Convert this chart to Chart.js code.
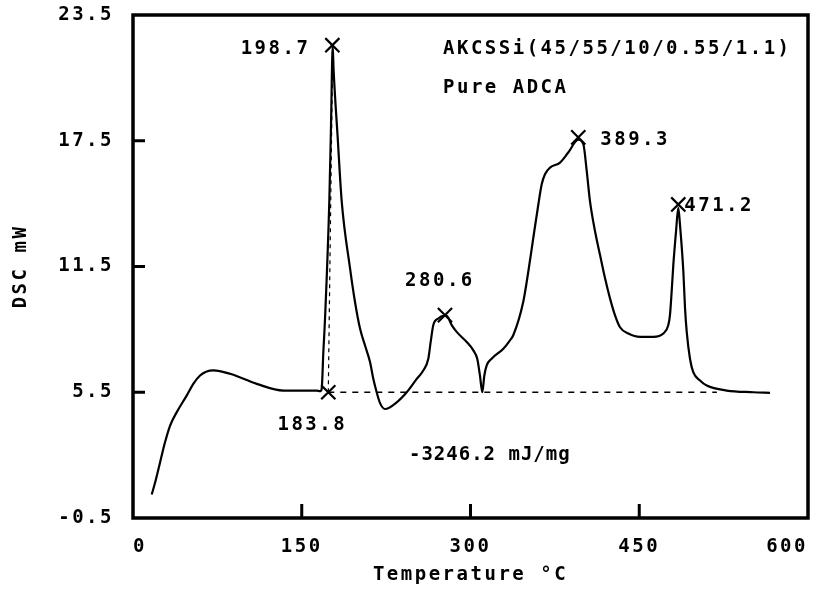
<!DOCTYPE html>
<html>
<head>
<meta charset="utf-8">
<script src="https://cdn.jsdelivr.net/npm/chart.js@4"></script>
<style>
  html, body { margin: 0; padding: 0; background: #fff; }
  #wrap { width: 822px; height: 590px; }
</style>
</head>
<body>
<div id="wrap"><canvas id="dsc"></canvas></div>
<script>
// DSC curve
const temps = [16.6, 19.6, 24.0, 28.4, 32.9, 38.8, 47.7, 53.6, 59.6, 65.5, 71.4, 86.2, 110.0, 133.6, 163.3, 166.2,
  167.7, 169.2, 170.7, 174.5, 176.0, 177.5, 178.3, 182.0, 185.5, 192.9, 197.3, 201.8, 206.2, 210.7, 213.6, 216.6,
  219.6, 224.0, 234.4, 243.3, 252.2, 258.0, 262.5, 264.6, 266.9, 271.4, 275.8, 278.8, 283.3, 287.7, 296.6, 302.5,
  306.0, 308.4, 310.5, 312.3, 314.4, 318.8, 329.2, 335.1, 338.0, 346.9, 351.4, 355.8, 360.3, 363.3, 366.2, 370.7,
  379.6, 386.9, 395.8, 400.3, 403.3, 406.2, 410.7, 415.1, 419.6, 424.0, 428.4, 432.9, 440.3, 450.7, 462.5, 471.4,
  475.8, 477.3, 478.8, 480.3, 482.7, 484.7, 486.2, 489.2, 490.7, 492.2, 495.1, 498.0, 504.0, 510.0, 527.7, 551.4,
  566.2];
const dsc = [0.62, 1.18, 2.14, 3.10, 3.90, 4.54, 5.34, 5.90, 6.30, 6.49, 6.54, 6.38, 5.90, 5.58, 5.58, 5.55,
  5.66, 7.42, 9.02, 14.62, 18.2, 22.0, 20.9, 17.6, 14.62, 11.42, 9.82, 8.54, 7.74, 6.94, 6.14, 5.50,
  4.98, 4.70, 5.02, 5.50, 6.14, 6.54, 7.10, 7.90, 8.70, 9.02, 9.15, 9.15, 8.70, 8.38, 7.90, 7.50,
  7.10, 6.30, 5.50, 6.30, 6.78, 7.10, 7.58, 7.98, 8.22, 9.82, 11.26, 12.86, 14.46, 15.42, 15.90, 16.22,
  16.46, 16.94, 17.55, 17.34, 16.06, 14.62, 13.18, 12.06, 10.94, 9.98, 9.18, 8.60, 8.30, 8.14, 8.14, 8.30,
  8.70, 9.18, 10.30, 11.59, 13.18, 14.30, 13.50, 11.26, 9.50, 8.38, 7.10, 6.46, 6.06, 5.82, 5.58, 5.50,
  5.47];

const xTicks = [0, 150, 300, 450, 600];
const yTicks = [-0.5, 5.5, 11.5, 17.5, 23.5];

// marked points
const peakTemps = [177.2, 173.6, 277.3, 395.8, 484.7];
const peakDsc = [22.06, 5.50, 9.18, 17.66, 14.46];
const peakLabels = ['198.7', '183.8', '280.6', '389.3', '471.2'];

// dashed baseline and drop line
const baseTemps = [173.6, 519];
const baseDsc = [5.5, 5.5];
const dropTemps = [173.6, 177.5];
const dropDsc = [5.5, 22.0];

// free text
const notes = ['AKCSSi(45/55/10/0.55/1.1)', 'Pure ADCA', '-3246.2 mJ/mg'];
const noteTemps = [275.6, 275.6, 245.3];
const noteDsc = [21.87, 20.0, 2.52];

const toPts = (xs, ys) => xs.map((x, i) => ({ x: x, y: ys[i] }));
const FONT = '"DejaVu Sans Mono", monospace';

// label offsets in px from each marker
const labelPos = [
  { dx: -22, dy: 4, align: 'right' },
  { dx: -16, dy: 33, align: 'center' },
  { dx: -5, dy: -34, align: 'center' },
  { dx: 22, dy: 3, align: 'left' },
  { dx: 6, dy: 2, align: 'left' }
];
const noteSpacing = ['2.5px', '2.5px', '1px'];

const spacing = {
  id: 'spacing',
  beforeDraw(chart) { chart.ctx.letterSpacing = '2.5px'; }
};

const frame = {
  id: 'frame',
  afterDraw(chart) {
    const { ctx, chartArea: a, scales } = chart;
    ctx.save();
    ctx.strokeStyle = '#000';
    ctx.lineWidth = 3.5;
    ctx.strokeRect(a.left, a.top, a.right - a.left, a.bottom - a.top);
    ctx.lineWidth = 3;
    ctx.beginPath();
    xTicks.slice(1, -1).forEach(v => {
      const px = scales.x.getPixelForValue(v);
      ctx.moveTo(px, a.bottom); ctx.lineTo(px, a.bottom - 14);
    });
    yTicks.slice(1, -1).forEach(v => {
      const py = scales.y.getPixelForValue(v);
      ctx.moveTo(a.left, py); ctx.lineTo(a.left + 12, py);
    });
    ctx.stroke();

    ctx.fillStyle = '#000';
    ctx.font = 'bold 19px ' + FONT;
    ctx.letterSpacing = '2.5px';
    ctx.textBaseline = 'middle';
    peakLabels.forEach((t, i) => {
      const p = labelPos[i];
      ctx.textAlign = p.align;
      ctx.fillText(t, scales.x.getPixelForValue(peakTemps[i]) + p.dx, scales.y.getPixelForValue(peakDsc[i]) + p.dy);
    });
    ctx.textAlign = 'left';
    notes.forEach((t, i) => {
      ctx.letterSpacing = noteSpacing[i];
      ctx.fillText(t, scales.x.getPixelForValue(noteTemps[i]), scales.y.getPixelForValue(noteDsc[i]));
    });
    ctx.restore();
  }
};

new Chart(document.getElementById('dsc'), {
  type: 'line',
  data: {
    datasets: [
      {
        data: toPts(temps, dsc),
        borderColor: '#000',
        borderWidth: 2.2,
        pointRadius: 0,
        cubicInterpolationMode: 'monotone'
      },
      {
        data: toPts(baseTemps, baseDsc),
        borderColor: '#000',
        borderWidth: 1.5,
        borderDash: [6, 6],
        pointRadius: 0
      },
      {
        data: toPts(dropTemps, dropDsc),
        borderColor: '#000',
        borderWidth: 1.2,
        borderDash: [4, 4],
        pointRadius: 0
      },
      {
        data: toPts(peakTemps, peakDsc),
        showLine: false,
        pointStyle: 'crossRot',
        pointRadius: 10,
        pointBorderWidth: 2.2,
        borderColor: '#000'
      }
    ]
  },
  options: {
    responsive: true,
    maintainAspectRatio: false,
    animation: false,
    layout: { padding: { top: 15, right: 14, left: 0, bottom: 0 } },
    plugins: {
      legend: { display: false },
      tooltip: { enabled: false }
    },
    scales: {
      x: {
        type: 'linear',
        min: 0,
        max: 600,
        afterBuildTicks: s => { s.ticks = xTicks.map(v => ({ value: v })); },
        afterFit: s => { s.height = 72; s.paddingLeft = 0; s.paddingRight = 0; },
        grid: { display: false },
        border: { display: false },
        ticks: {
          color: '#000',
          font: { family: FONT, size: 19, weight: 'bold' },
          padding: 10,
          align: 'inner',
          maxRotation: 0,
          callback: v => String(v)
        },
        title: {
          display: true,
          text: 'Temperature °C',
          color: '#000',
          font: { family: FONT, size: 19, weight: 'bold' },
          padding: { top: 0, bottom: 4 }
        }
      },
      y: {
        type: 'linear',
        min: -0.5,
        max: 23.5,
        afterBuildTicks: s => { s.ticks = yTicks.map(v => ({ value: v })); },
        afterFit: s => { s.width = 133; s.paddingTop = 0; s.paddingBottom = 0; },
        grid: { display: false },
        border: { display: false },
        ticks: {
          color: '#000',
          font: { family: FONT, size: 19, weight: 'bold' },
          padding: 11,
          callback: v => v.toFixed(1)
        },
        title: {
          display: true,
          text: 'DSC mW',
          color: '#000',
          font: { family: FONT, size: 19, weight: 'bold' },
          padding: { top: 10, bottom: 0 }
        }
      }
    }
  },
  plugins: [spacing, frame]
});
</script>
</body>
</html>
